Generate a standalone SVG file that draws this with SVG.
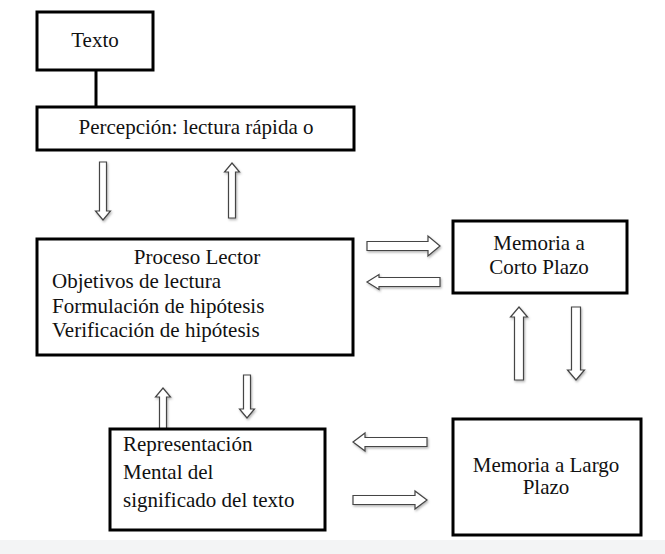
<svg xmlns="http://www.w3.org/2000/svg" width="665" height="554" viewBox="0 0 665 554">
<style>
.box{fill:#fff;stroke:#000;stroke-width:3}
.t{font-family:"Liberation Serif","Times New Roman",serif;font-size:21px;fill:#111}
.c{text-anchor:middle}
.ar{fill:#fff;stroke:#444;stroke-width:1.2;stroke-linejoin:miter}
</style>
<defs>
  <filter id="shadow" x="-20%" y="-20%" width="140%" height="140%">
    <feDropShadow dx="1" dy="1.5" stdDeviation="1" flood-color="#000" flood-opacity="0.3"/>
  </filter>
</defs>
<rect x="0" y="0" width="665" height="554" fill="#fff"/>
<rect x="0" y="540" width="665" height="14" fill="#f3f4f5"/>
<g id="connectors">
  <line x1="96" y1="70" x2="96" y2="106" stroke="#000" stroke-width="3"/>
  <g filter="url(#shadow)">
  <path class="ar" d="M99.5,162 H106.5 V211 H110.5 L103,220 L95.5,211 H99.5 Z"/>
  <path class="ar" d="M228.5,218 H235.5 V172 H239.5 L232,163 L224.5,172 H228.5 Z"/>
  <path class="ar" d="M243.5,375 H250.5 V409 H254.5 L247,418 L239.5,409 H243.5 Z"/>
  <path class="ar" d="M159.5,430 H166.5 V397 H170.5 L163,388 L155.5,397 H159.5 Z"/>
  <path class="ar" d="M367,241.5 H428 V236 L440,246 L428,256 V250.5 H367 Z"/>
  <path class="ar" d="M440,277.5 H379 V274.5 L367,282 L379,289.5 V286.5 H440 Z"/>
  <path class="ar" d="M514.5,380 H523.5 V317 H527.5 L519,307 L510.5,317 H514.5 Z"/>
  <path class="ar" d="M571.5,307 H580.5 V370 H584.5 L576,380 L567.5,370 H571.5 Z"/>
  <path class="ar" d="M427,437.5 H365 V433 L353,442 L365,451 V446.5 H427 Z"/>
  <path class="ar" d="M353,495.5 H415 V491 L427,500 L415,509 V504.5 H353 Z"/>
  </g>
</g>
<g id="texto">
  <rect class="box" x="37" y="12" width="116" height="58"/>
  <text class="t c" x="95" y="47">Texto</text>
</g>
<g id="percepcion">
  <rect class="box" x="37" y="107" width="317" height="43"/>
  <text class="t c" x="196" y="134">Percepción: lectura rápida o</text>
</g>
<g id="proceso-lector">
  <rect class="box" x="37" y="239" width="316" height="116"/>
  <text class="t c" x="197" y="264">Proceso Lector</text>
  <text class="t" x="52" y="288">Objetivos de lectura</text>
  <text class="t" x="52" y="313">Formulación de hipótesis</text>
  <text class="t" x="52" y="337">Verificación de hipótesis</text>
</g>
<g id="memoria-corto">
  <rect class="box" x="453" y="221" width="174" height="72"/>
  <text class="t c" x="539" y="250">Memoria a</text>
  <text class="t c" x="539" y="274">Corto Plazo</text>
</g>
<g id="representacion">
  <rect class="box" x="110" y="429" width="215" height="101"/>
  <text class="t" x="123" y="451">Representación</text>
  <text class="t" x="123" y="479">Mental del</text>
  <text class="t" x="123" y="507">significado del texto</text>
</g>
<g id="memoria-largo">
  <rect class="box" x="453" y="419" width="188" height="116"/>
  <text class="t c" x="546" y="472">Memoria a Largo</text>
  <text class="t c" x="546" y="494">Plazo</text>
</g>
</svg>
